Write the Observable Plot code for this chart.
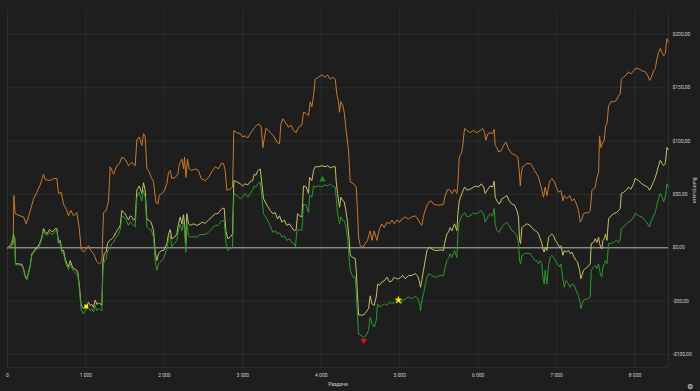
<!DOCTYPE html>
<html><head><meta charset="utf-8">
<script src="https://cdn.jsdelivr.net/npm/d3@7"></script>
<script src="https://cdn.jsdelivr.net/npm/@observablehq/plot@0.6"></script>
<style>
html,body{margin:0;padding:0;background:#1e1e1e;}
#wrap{position:relative;width:700px;height:391px;overflow:hidden;font-family:Roboto,"Open Sans",sans-serif;}
.lbl{position:absolute;color:#d0d0d0;font-size:5px;white-space:nowrap;}
</style></head>
<body><div id="wrap"></div>
<script>
// Hands (x) and winnings in $ (y)
const orange = [[0,0],[55,2],[72,4],[81,49],[98,32],[161,30],[204,29],[238,22.5],[268,29],[298,37],[332,46],[374,52],[417,59],[459,69],[480,64],[544,63],[587,65],[629,65],[650,51],[684,52],[714,41],[757,35],[778,30],[808,35],[842,30],[884,33],[914,19],[939,-1],[969,-4],[1003,-1],[1033,2],[1063,-2.5],[1097,-5.5],[1139,-13],[1173,-15],[1203,-13],[1224,33],[1258,35],[1288,44],[1309,76],[1352,69],[1394,77],[1428,79],[1458,85],[1500,83],[1543,77],[1585,80],
[1628,77],[1649,101],[1679,104],[1713,96],[1734,107],[1755,104],[1777,74],[1798,72.5],[1832,66],[1862,62],[1891,43],[1917,41],[1934,49],[1968,51],[2002,54],[2032,60],[2053,71],[2074,72.5],[2095,65],[2138,66],[2172,69],[2193,79],[2223,83],[2244,74],[2257,85],[2274,66],[2295,83],[2316,74],[2350,72.5],[2393,74],[2435,72.5],[2469,65],[2520,63],[2563,66],[2614,72.5],[2648,76],[2690,74],[2724,79],[2754,79],[2775,72.5],[2796,54],[2839,55],[2869,57],[2886,110],[2924,108],[2967,107],[2996,104],[3030,105],[3064,103],[3094,107],[3124,110],[3150,113],[3179,115],[3209,116],[3235,113],[3256,94],[3294,112],[3328,110],
[3349,108],[3392,105],[3434,99],[3468,97.5],[3485,116],[3511,121],[3540,118],[3583,113],[3613,115],[3647,110],[3680,108],[3710,113],[3753,115],[3774,127],[3808,126],[3838,124],[3859,137],[3880,132],[3902,143],[3923,158],[3965,160],[4008,162],[4050,160],[4080,162],[4114,158],[4148,160],[4178,158],[4199,144],[4220,137],[4233,127],[4250,137],[4276,133],[4293,127],[4318,110],[4348,91],[4369,62],[4412,60],[4446,57],[4463,33],[4476,10],[4497,2],[4531,0.5],[4561,4],[4590,7],[4624,16],[4646,7],[4675,16],[4709,7],[4743,18],[4773,22.5],[4803,19],[4837,24],[4871,22.5],[4900,26],[4930,22.5],[4964,26],[4998,24],[5028,27],
[5070,29],[5113,27],[5155,29],[5198,30],[5232,27],[5262,22.5],[5283,21],[5304,30],[5347,40],[5376,43],[5402,44],[5432,41],[5474,40],[5517,40],[5559,41],[5580,49],[5614,55],[5644,54],[5665,51],[5699,55],[5729,51],[5742,60],[5759,85],[5784,88],[5801,94],[5827,112],[5857,110],[5899,108],[5942,110],[5984,108],[6027,110],[6056,112],[6082,108],[6099,101],[6125,107],[6154,108],[6184,107],[6205,111],[6218,96],[6239,94],[6260,90],[6294,91],[6324,96],[6354,99],[6380,94],[6409,90],[6439,88],[6473,87],[6507,85],[6524,72.5],[6537,58],[6549,69],[6566,76],[6592,77],[6622,79],[6664,79],[6694,76],[6719,72.5],[6749,69],[6770,66],
[6792,60],[6813,54],[6834,47.5],[6855,57],[6877,49],[6911,62],[6940,65],[6970,62],[6996,57],[7025,52],[7055,54],[7081,44],[7098,49],[7132,46],[7166,49],[7195,44],[7225,46],[7259,40],[7280,35],[7302,24],[7323,27],[7344,32],[7378,33],[7408,33],[7429,35],[7451,54],[7472,55],[7493,57],[7514,66],[7536,71],[7548,105],[7565,94],[7591,99],[7608,101],[7625,115],[7642,116],[7663,133],[7693,137],[7727,137],[7761,138],[7791,143],[7812,144],[7825,158],[7854,160],[7888,162],[7918,165],[7948,163],[7982,166],[8003,168],[8045,168],[8088,166],[8130,165],[8160,162],[8186,157],[8207,160],[8237,166],[8258,168],[8279,177],[8300,183],[8322,187],[8347,183],[8364,180],[8386,182],[8398,191],[8407,196],[8424,193]];

const yellow = [[0,0],[34,2],[55,4],[77,12.5],[94,8.5],[102,-15],[140,-15],[183,-15.5],[204,-19.5],[225,-26],[247,-29],[268,-23],[289,-16.5],[310,-5.5],[332,-4],[353,-1],[383,0.5],[408,4],[438,10],[459,18],[480,15],[502,13],[536,17],[565,15],[587,16],[608,18],[629,18],[650,5],[672,7],[693,-2.5],[714,-2.5],[735,-10],[757,-15],[778,-18],[799,-12],[820,-16.5],[842,-19.5],[876,-20.5],[897,-23],[918,-37],[939,-54],[969,-57],[990,-56],[1012,-54],[1033,-51],[1054,-54],[1075,-53],[1097,-56],[1118,-49],[1139,-53],[1160,-52],[1182,-52.5],[1203,-54],[1216,-15],[1233,-5.5],[1258,-4],[1275,4],[1301,7],[1330,8.5],[1352,10],[1373,13],[1394,16],[1415,18],[1437,21],[1458,35],[1488,33],[1513,30],[1543,26],[1564,30],[1585,29],[1607,26],
[1628,27],[1649,54],[1679,58],[1713,51],[1734,61],[1755,54],[1777,27],[1798,26],[1832,24],[1862,16],[1883,-4],[1904,-12],[1926,-5.5],[1960,-2.5],[1989,-2.5],[2010,0.5],[2032,4],[2053,13],[2074,17],[2095,8.5],[2129,10],[2159,13],[2180,22.5],[2202,29],[2223,22.5],[2244,31],[2257,22.5],[2274,4],[2286,32],[2308,22.5],[2329,21],[2371,22.5],[2414,21],[2456,22.5],[2478,24],[2520,23],[2563,26],[2605,29],[2648,32],[2682,32],[2712,35],[2741,37],[2763,37],[2784,16],[2809,8.5],[2839,10],[2869,13],[2886,63],[2924,62],[2967,60],[2996,58],[3030,60],[3064,59],[3094,62],[3124,63],[3145,69],[3167,68],[3192,72.5],[3222,74],[3243,60],[3264,46],[3307,40],
[3349,35],[3383,32],[3413,33],[3443,27],[3468,30],[3498,24],[3528,26],[3562,21],[3596,22.5],[3625,19],[3655,16],[3680,17],[3698,32],[3723,30],[3753,29],[3774,58],[3808,57],[3838,51],[3851,66],[3880,63],[3902,72.5],[3923,76],[3965,76],[4008,77],[4050,76],[4080,77],[4114,75],[4148,76],[4178,76],[4191,62],[4208,51],[4233,38],[4250,47.5],[4276,44],[4293,43],[4310,37],[4335,24],[4356,7],[4369,-7],[4403,-9],[4433,-10],[4446,-21],[4463,-46],[4476,-63],[4506,-63],[4540,-63],[4573,-60],[4603,-57],[4624,-45],[4646,-52.5],[4675,-54],[4701,-46],[4718,-34],[4743,-35],[4773,-32],[4803,-31],[4837,-27.5],[4871,-32],[4900,-31],[4930,-27.5],[4956,-29],[4985,-29],[5015,-27.5],[5041,-26],
[5070,-29],[5113,-26],[5155,-26],[5198,-24],[5232,-27],[5249,-31],[5266,-37],[5283,-30],[5304,-21],[5325,-12],[5347,-2.5],[5376,0.5],[5410,-1],[5444,-2.5],[5474,-2.5],[5517,-2],[5559,-2.5],[5572,4],[5602,13],[5623,15],[5644,19],[5665,16],[5699,22.5],[5729,16],[5742,32],[5759,44],[5793,51],[5827,57],[5857,54],[5899,55],[5942,57],[5971,58],[6005,57],[6039,60],[6069,57],[6090,51],[6125,55],[6154,58],[6184,57],[6205,62.5],[6218,47.5],[6239,44],[6269,41],[6303,46],[6337,47.5],[6367,49],[6396,44],[6430,41],[6464,40],[6494,35],[6515,29],[6528,7],[6541,4],[6558,19],[6592,21],[6622,22.5],[6664,21],[6694,18],[6728,16],[6749,15],[6770,13],
[6792,8.5],[6813,4],[6825,-1],[6842,-4],[6855,0.5],[6877,-2.5],[6898,10],[6919,11.5],[6940,13],[6962,11.5],[6983,7],[7013,4],[7038,0.5],[7055,2],[7081,-7],[7098,-2.5],[7123,-4],[7153,-2.5],[7174,-5.5],[7195,-4],[7225,-9],[7251,-12],[7268,-13.5],[7293,-21],[7310,-29],[7323,-26],[7344,-21],[7366,-19.5],[7395,-18],[7429,-15],[7442,4],[7472,5],[7493,8.5],[7514,5],[7536,10],[7548,4],[7565,0.5],[7578,-1],[7591,7],[7608,8.5],[7625,13],[7642,7],[7663,27],[7693,30],[7727,32],[7761,33],[7791,35],[7812,37],[7825,51],[7854,52],[7888,54],[7918,57],[7948,55],[7982,60],[8003,65],[8045,63],[8088,60],[8130,58],[8160,57],[8186,54],[8207,57],[8237,62],[8258,66],[8279,71],[8300,77],[8322,82],[8347,79],[8364,77],[8386,79],[8398,87],[8407,94],[8424,92]];

const green = [[0,0],[34,1],[77,11.5],[94,7.5],[102,-15.5],[140,-16],[183,-16.5],[204,-20.5],[225,-27.5],[247,-30],[268,-24],[289,-17.5],[310,-7],[332,-5],[353,-2],[383,-1],[408,2],[438,8.5],[459,16],[480,12.5],[502,11.5],[536,14.5],[565,12.5],[587,13],[608,16],[629,16],[650,4],[672,5],[693,-5],[714,-5],[735,-12.5],[757,-17.5],[778,-20.5],[799,-14.5],[820,-19],[842,-22],[876,-24],[897,-26],[918,-40],[939,-58],[969,-62],[990,-59],[1012,-57],[1033,-56],[1054,-59],[1075,-57],[1097,-60],[1118,-54],[1139,-59],[1160,-57],[1182,-58],[1203,-59],[1216,-21],[1233,-12],[1258,-11],[1275,-2.5],[1301,-1],[1330,4],[1352,5],[1373,8.5],[1394,10.5],[1415,12.5],[1437,17],[1458,29],[1488,29],[1513,26],[1543,21],[1564,24],[1585,23],[1607,21],
[1628,19.5],[1649,47.5],[1679,52],[1713,44],[1734,54],[1755,47.5],[1777,19.5],[1798,18],[1832,17],[1862,10],[1883,-12],[1904,-21],[1926,-15],[1960,-12],[1989,-10],[2010,-5.5],[2032,-1],[2053,8.5],[2074,11.5],[2095,1],[2129,4],[2159,7],[2180,16],[2202,22.5],[2223,16],[2244,24],[2257,16],[2274,-4],[2286,24],[2308,11.5],[2329,10],[2371,10.5],[2414,10],[2456,12.5],[2478,12.5],[2520,12.5],[2563,14.5],[2605,18],[2648,21],[2682,21],[2712,24],[2741,25.5],[2763,25.5],[2784,5],[2809,-2.5],[2839,-1],[2869,0.5],[2886,51],[2924,49],[2967,46],[2996,47.5],[3030,51],[3064,47.5],[3094,51],[3124,54],[3145,58],[3167,57],[3192,60],[3222,61.5],[3243,47.5],[3264,32],[3307,27],
[3349,21],[3383,14.5],[3413,16],[3443,13],[3468,14.5],[3498,10],[3528,11.5],[3562,7],[3596,8.5],[3625,5],[3655,4],[3672,1],[3689,16],[3723,17],[3753,16],[3774,41],[3808,40],[3838,33],[3851,49],[3880,47.5],[3902,58],[3923,57],[3965,58],[4008,57.5],[4050,59],[4080,58],[4114,60],[4148,57.5],[4178,57],[4191,46],[4208,33],[4233,22.5],[4250,29],[4276,25.5],[4293,25.5],[4310,21],[4335,10],[4356,-10.5],[4369,-21],[4403,-27.5],[4433,-27.5],[4446,-43],[4463,-65],[4476,-81],[4506,-82],[4540,-84],[4573,-82],[4603,-77.5],[4624,-65],[4646,-71],[4675,-74],[4701,-68],[4718,-52.5],[4743,-55.5],[4773,-54],[4803,-52.5],[4837,-54],[4871,-51],[4900,-52.5],[4930,-51],[4956,-51],[4985,-49],[5015,-52.5],[5041,-49],
[5070,-48],[5113,-46],[5155,-48],[5198,-45.5],[5232,-48],[5249,-51],[5266,-59],[5283,-49],[5304,-43],[5325,-35],[5347,-27.5],[5376,-24],[5410,-26],[5444,-27.5],[5474,-27],[5517,-26],[5559,-26],[5572,-21],[5602,-12],[5623,-10],[5644,-5.5],[5665,-9],[5699,-2.5],[5729,-9],[5742,13],[5759,24],[5793,30],[5827,33],[5857,29],[5899,30],[5942,33],[5971,32],[6005,32.5],[6039,35],[6069,32],[6090,24],[6125,29],[6154,32],[6184,30],[6205,37],[6218,22.5],[6239,16],[6269,14.5],[6303,19.5],[6337,22.5],[6367,24],[6396,21],[6430,16],[6464,14.5],[6494,11.5],[6515,4],[6528,-12],[6541,-15],[6558,-7],[6592,-5.5],[6622,-5],[6664,-5.5],[6694,-9],[6728,-12],[6749,-12],[6770,-15],
[6792,-12],[6813,-15],[6825,-27.5],[6842,-34],[6855,-21],[6877,-34],[6898,-16.5],[6919,-9],[6940,-7],[6962,-9],[6983,-12],[7013,-15],[7038,-18],[7055,-15],[7081,-29],[7098,-37],[7123,-30.5],[7153,-34],[7174,-37],[7195,-34],[7225,-35],[7251,-40],[7268,-43],[7293,-49],[7310,-57],[7323,-54],[7344,-49],[7366,-48],[7395,-48],[7429,-46],[7442,-21],[7472,-18],[7493,-16.5],[7514,-19.5],[7536,-15],[7548,-21],[7565,-26],[7578,-27.5],[7591,-18],[7608,-15],[7625,-12],[7642,-15],[7663,4],[7693,4],[7727,5],[7761,7],[7791,5],[7812,8.5],[7825,18],[7854,19.5],[7888,22.5],[7918,24],[7948,25.5],[7982,29],[8003,32.5],[8045,30],[8088,29],[8130,25.5],[8160,22.5],[8186,19.5],[8207,25.5],[8237,30],[8258,33],[8279,40],[8300,46],[8322,51],[8347,47.5],[8364,43],[8386,47.5],[8398,54],[8407,60],[8424,57]];

// markers [hand, $]
const markerSquare = [[1003,-55]];
const markerStar = [[4985,-49]];
const markerMin = [[4540,-87]];
const markerMax = [[4016,64]];

const xTicks = [0,1000,2000,3000,4000,5000,6000,7000,8000];
const yTicks = [-100,-50,0,50,100,150,200];
const xLabel = "Раздачи";
const yLabel = "Выигрыши";

const fmtX = d => d === 0 ? "0" : d3.format(",")(d).replace(/,/g, "\u00a0");
const fmtY = v => (v < 0 ? "-" : "") + "$" + Math.abs(v) + ",00";
const X_END = 8427, Y_MIN = -112.2;

const chart = Plot.plot({
  width: 700, height: 391,
  marginLeft: 7, marginRight: 32, marginTop: 10, marginBottom: 24,
  style: {background: "#1e1e1e", color: "#cfcfcf", fontFamily: "Roboto, 'Open Sans', sans-serif", fontSize: "5px", overflow: "visible"},
  x: {domain: [0, X_END]},
  y: {domain: [Y_MIN, 222.5]},
  marks: [
    Plot.gridX(xTicks, {stroke: "#2d2d2d", strokeOpacity: 1}),
    Plot.gridY(yTicks.filter(d => d !== 0), {stroke: "#2d2d2d", strokeOpacity: 1}),
    Plot.ruleX([X_END], {stroke: "#2d2d2d"}),
    Plot.ruleY([Y_MIN], {stroke: "#2d2d2d"}),
    Plot.ruleY([0], {stroke: "#bdbdbd", strokeWidth: 1}),
    Plot.axisX({ticks: xTicks, tickSize: 0, tickPadding: 6, tickFormat: fmtX, label: null, fill: "#cfcfcf"}),
    Plot.axisY({anchor: "right", ticks: yTicks, tickSize: 0, tickPadding: 4, tickFormat: fmtY, label: null, fill: "#cfcfcf"}),
    Plot.line(orange, {x: d => d[0], y: d => d[1], stroke: "#c97a2e", strokeWidth: 1}),
    Plot.line(yellow, {x: d => d[0], y: d => d[1], stroke: "#c9c068", strokeWidth: 1}),
    Plot.line(green, {x: d => d[0], y: d => d[1], stroke: "#2e972f", strokeWidth: 1}),
    Plot.dot(markerSquare, {x: d => d[0], y: d => d[1], symbol: "square", r: 2.2, fill: "#ffee00", stroke: "none"}),
    Plot.dot(markerStar, {x: d => d[0], y: d => d[1], symbol: "star", r: 2.6, fill: "#ffee00", stroke: "none"}),
    Plot.dot(markerMin, {x: d => d[0], y: d => d[1], symbol: "triangle", rotate: 180, r: 2.4, fill: "#e01010", stroke: "none"}),
    Plot.dot(markerMax, {x: d => d[0], y: d => d[1], symbol: "triangle", r: 2.4, fill: "#1a8a1a", stroke: "none"})
  ]
});
const wrap = document.getElementById("wrap");
wrap.appendChild(chart);

const xl = document.createElement("div");
xl.className = "lbl"; xl.textContent = xLabel;
xl.style.left = "338px"; xl.style.top = "381px"; xl.style.transform = "translateX(-50%)";
wrap.appendChild(xl);

const yl = document.createElement("div");
yl.className = "lbl"; yl.textContent = yLabel;
yl.style.left = "695px"; yl.style.top = "190px"; yl.style.transform = "translate(-50%,-50%) rotate(90deg)";
wrap.appendChild(yl);

const ic = document.createElement("div");
ic.className = "lbl"; ic.textContent = "⚙";
ic.style.left = "687px"; ic.style.top = "383px"; ic.style.fontSize = "7px"; ic.style.color = "#e0e0e0";
wrap.appendChild(ic);
</script>
</body></html>
